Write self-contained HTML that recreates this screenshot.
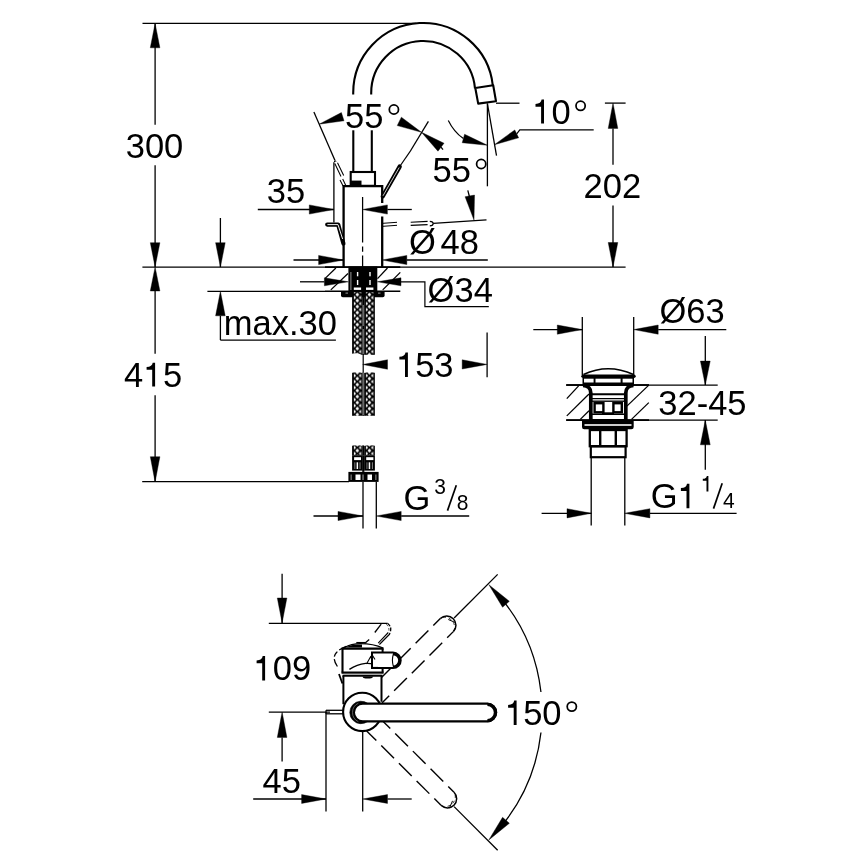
<!DOCTYPE html>
<html><head><meta charset="utf-8"><style>
html,body{margin:0;padding:0;background:#fff;width:868px;height:868px;overflow:hidden}
svg{display:block;will-change:transform}
text{font-family:"Liberation Sans",sans-serif;fill:#000;stroke:none}
</style></head><body>
<svg width="868" height="868" viewBox="0 0 868 868" stroke="#000" stroke-linecap="butt">
<defs>
<pattern id="bL" x="352.1" y="3.6" width="10.4" height="6.0" patternUnits="userSpaceOnUse">
<rect width="10.4" height="6" fill="#000" stroke="none"/>
<path d="M5.2,1.0 L7.1,3 L5.2,5.0 L3.3,3Z" fill="#fff" stroke="none"/>
<path d="M1.8,-2.0 L4.0,0 L1.8,2.0Z M9.0,-2.0 L6.6,0 L9.0,2.0Z M1.8,4.0 L4.0,6 L1.8,8.0Z M9.0,4.0 L6.6,6 L9.0,8.0Z" fill="#fff" stroke="none"/>
</pattern>
<pattern id="bR" x="364.2" y="3.6" width="10.4" height="6.0" patternUnits="userSpaceOnUse">
<rect width="10.4" height="6" fill="#000" stroke="none"/>
<path d="M5.2,1.0 L7.1,3 L5.2,5.0 L3.3,3Z" fill="#fff" stroke="none"/>
<path d="M1.8,-2.0 L4.0,0 L1.8,2.0Z M9.0,-2.0 L6.6,0 L9.0,2.0Z M1.8,4.0 L4.0,6 L1.8,8.0Z M9.0,4.0 L6.6,6 L9.0,8.0Z" fill="#fff" stroke="none"/>
</pattern>
</defs>
<rect width="868" height="868" fill="#fff" stroke="none"/>
<line x1="142.50" y1="23.40" x2="416.00" y2="23.40" stroke-width="1.3" />
<line x1="155.10" y1="23.40" x2="155.10" y2="124.70" stroke-width="1.3" />
<polygon points="155.10,23.40 159.90,47.80 150.30,47.80" fill="#000" stroke="#000" stroke-width="0.4" stroke-linejoin="miter"/>
<text transform="translate(125.72,157.56) scale(1.0,1.03)" font-size="34.5">300</text>
<line x1="155.10" y1="165.30" x2="155.10" y2="267.00" stroke-width="1.3" />
<polygon points="155.10,267.00 150.30,242.70 159.90,242.70" fill="#000" stroke="#000" stroke-width="0.4" stroke-linejoin="miter"/>
<line x1="142.40" y1="267.10" x2="625.60" y2="267.10" stroke-width="1.3" />
<line x1="325.00" y1="267.10" x2="400.30" y2="267.10" stroke-width="1.7" />
<polygon points="155.10,267.10 159.90,291.00 150.30,291.00" fill="#000" stroke="#000" stroke-width="0.4" stroke-linejoin="miter"/>
<line x1="155.10" y1="291.00" x2="155.10" y2="353.70" stroke-width="1.3" />
<text transform="translate(124.11,386.85) scale(1.0,1.03)" font-size="34.5">4</text>
<path d="M155.10,362.70 L155.10,386.50 L152.20,386.50 L152.20,369.80 L146.60,369.80 L146.60,367.00 C150.40,367.00 152.40,365.30 152.70,362.70 Z" fill="#000" stroke="none"/>
<text transform="translate(162.91,386.65) scale(1.0,1.03)" font-size="34.5">5</text>
<line x1="155.10" y1="395.20" x2="155.10" y2="482.00" stroke-width="1.3" />
<polygon points="155.10,482.00 150.30,456.70 159.90,456.70" fill="#000" stroke="#000" stroke-width="0.4" stroke-linejoin="miter"/>
<line x1="142.20" y1="481.60" x2="349.00" y2="481.60" stroke-width="1.3" />
<line x1="220.40" y1="218.00" x2="220.40" y2="267.00" stroke-width="1.3" />
<polygon points="220.40,267.10 215.60,242.70 225.20,242.70" fill="#000" stroke="#000" stroke-width="0.4" stroke-linejoin="miter"/>
<line x1="207.40" y1="291.30" x2="325.00" y2="291.30" stroke-width="1.3" />
<line x1="325.00" y1="291.20" x2="400.30" y2="291.20" stroke-width="1.6" />
<polygon points="220.40,291.30 225.20,315.80 215.60,315.80" fill="#000" stroke="#000" stroke-width="0.4" stroke-linejoin="miter"/>
<line x1="220.40" y1="315.80" x2="220.40" y2="340.10" stroke-width="1.3" />
<line x1="220.40" y1="340.10" x2="335.90" y2="340.10" stroke-width="1.3" />
<text transform="translate(223.78,335.35) scale(1.0,1.03)" font-size="34.5">max.30</text>
<line x1="257.80" y1="209.50" x2="333.90" y2="209.50" stroke-width="1.3" />
<polygon points="333.90,209.50 309.30,214.10 309.30,204.90" fill="#000" stroke="#000" stroke-width="0.4" stroke-linejoin="miter"/>
<text transform="translate(266.72,203.46) scale(1.0,1.03)" font-size="34.5">35</text>
<polygon points="362.60,209.50 387.40,204.90 387.40,214.10" fill="#000" stroke="#000" stroke-width="0.4" stroke-linejoin="miter"/>
<line x1="387.40" y1="209.50" x2="411.80" y2="209.50" stroke-width="1.3" />
<line x1="333.90" y1="162.50" x2="333.90" y2="222.50" stroke-width="1.3" />
<path d="M353.20,94.6 L353.20,93.00 A70.0,70.0 0 0 1 492.80,85.50" stroke-width="2.1" fill="none" />
<path d="M371.20,94.6 L371.20,93.00 A52.0,52.0 0 0 1 474.99,88.30" stroke-width="2.1" fill="none" />
<polygon points="475.30,88.00 478.20,103.60 496.00,101.20 493.20,85.30" stroke-width="2.1" fill="none" stroke-linejoin="round"/>
<line x1="353.30" y1="130.30" x2="353.30" y2="172.00" stroke-width="2.1" />
<line x1="371.80" y1="130.30" x2="371.80" y2="172.00" stroke-width="2.1" />
<rect x="350.70" y="172.00" width="24.30" height="13.80" stroke-width="2.1" fill="none" />
<rect x="350.70" y="180.60" width="10.80" height="5.40" fill="#000" stroke="none" />
<path d="M343.6,267 L343.6,186.2 L382.2,186.2 L382.2,203 M382.2,216.5 L382.2,267" stroke-width="2.3" fill="none" />
<path d="M362.6,197 L362.6,242.5 M362.6,246.5 L362.6,251.8 M362.6,255.4 L362.6,267" stroke-width="1.25" fill="none" />
<line x1="313.90" y1="112.10" x2="335.00" y2="160.50" stroke-width="1.3" />
<polygon points="319.10,124.20 341.40,112.60 344.00,120.80" fill="#000" stroke="#000" stroke-width="0.4" stroke-linejoin="miter"/>
<path d="M333.9,162.5 Q334.5,160 336.3,161.3" stroke-width="1.0" fill="none" />
<path d="M334.8,163.5 L341.0,176.5 M337.5,162.8 L343.7,175.5 M340.0,180 L343.1,186 M342.7,179 L345.8,185.5" stroke-width="1.05" fill="none" />
<path d="M327.2,224.6 L338.2,224.6 L343.4,243.5" stroke-width="4.2" fill="none" stroke-linecap="round" stroke-linejoin="round"/>
<path d="M327.4,224.6 L338.0,224.6 L342.6,239" stroke-width="1.0" fill="none" stroke="#eee" stroke-linejoin="round"/>
<text transform="translate(345.12,127.75) scale(1.0,1.03)" font-size="34.5">55</text>
<circle cx="393.90" cy="109.50" r="4.60" stroke-width="1.75" fill="none"/>
<line x1="411.10" y1="150.00" x2="400.40" y2="165.50" stroke-width="1.3" />
<path d="M399.7,166.6 L382.8,196.3" stroke-width="4.3" fill="none" stroke-linecap="round"/>
<path d="M399.2,167.5 L383.0,195.8" stroke-width="0.9" fill="none" stroke="#ddd"/>
<line x1="428.40" y1="121.30" x2="411.00" y2="150.00" stroke-width="1.3" />
<polygon points="421.50,132.30 397.23,125.62 401.37,117.18" fill="#000" stroke="#000" stroke-width="0.4" stroke-linejoin="miter"/>
<polygon points="421.50,132.30 444.04,143.23 437.96,151.17" fill="#000" stroke="#000" stroke-width="0.4" stroke-linejoin="miter"/>
<line x1="441.00" y1="147.20" x2="443.00" y2="149.60" stroke-width="1.3" />
<text transform="translate(432.52,182.35) scale(1.0,1.03)" font-size="34.5">55</text>
<circle cx="481.20" cy="164.00" r="4.60" stroke-width="1.75" fill="none"/>
<path d="M448.3,120.4 Q454,132 463.4,138.5" stroke-width="1.2" fill="none" />
<polygon points="487.50,145.30 462.21,142.73 464.59,134.27" fill="#000" stroke="#000" stroke-width="0.4" stroke-linejoin="miter"/>
<line x1="487.40" y1="103.50" x2="487.40" y2="186.30" stroke-width="1.3" />
<line x1="487.40" y1="103.50" x2="496.50" y2="155.60" stroke-width="1.3" />
<polygon points="494.40,144.70 514.78,129.94 518.62,137.86" fill="#000" stroke="#000" stroke-width="0.4" stroke-linejoin="miter"/>
<path d="M516.7,133.9 L519.8,129.8 L593.7,129.8" stroke-width="1.2" fill="none" />
<line x1="496.00" y1="103.20" x2="519.50" y2="103.20" stroke-width="1.3" />
<path d="M544.00,99.60 L544.00,123.60 L541.10,123.60 L541.10,106.70 L535.50,106.70 L535.50,103.90 C539.30,103.90 541.30,102.20 541.60,99.60 Z" fill="#000" stroke="none"/>
<text transform="translate(551.56,123.56) scale(1.0,1.03)" font-size="34.5">0</text>
<circle cx="580.60" cy="105.80" r="4.60" stroke-width="1.75" fill="none"/>
<line x1="604.90" y1="103.10" x2="625.60" y2="103.10" stroke-width="1.3" />
<polygon points="613.00,103.10 617.80,128.40 608.20,128.40" fill="#000" stroke="#000" stroke-width="0.4" stroke-linejoin="miter"/>
<line x1="613.00" y1="128.40" x2="613.00" y2="164.80" stroke-width="1.3" />
<text transform="translate(583.57,198.35) scale(1.0,1.03)" font-size="34.5">202</text>
<line x1="613.00" y1="205.60" x2="613.00" y2="267.00" stroke-width="1.3" />
<polygon points="613.00,267.10 608.20,242.50 617.80,242.50" fill="#000" stroke="#000" stroke-width="0.4" stroke-linejoin="miter"/>
<line x1="433.20" y1="223.40" x2="486.50" y2="219.80" stroke-width="1.2" />
<path d="M410.7,222.2 L427.6,221.4 M410.7,225.4 L427.6,224.6" stroke-width="1.1" fill="none" />
<path d="M429.8,221.3 Q433.2,221.6 433.2,223.4 Q433.2,225.6 429.8,225.8" stroke-width="1.2" fill="none" />
<line x1="467.80" y1="190.40" x2="470.30" y2="200.00" stroke-width="1.3" />
<polygon points="474.00,220.10 465.07,196.72 474.53,195.08" fill="#000" stroke="#000" stroke-width="0.4" stroke-linejoin="miter"/>
<path d="M383,223.3 L397,222.3 M383,226.3 L397,225.3" stroke-width="1.0" fill="none" />
<text transform="translate(409.02,254.01) scale(1.0,1.03)" font-size="34.5">&#216;</text>
<text transform="translate(440.58,254.35) scale(1.0,1.03)" font-size="34.5">48</text>
<line x1="293.50" y1="260.00" x2="343.60" y2="260.00" stroke-width="1.3" />
<polygon points="343.60,260.00 318.60,264.60 318.60,255.40" fill="#000" stroke="#000" stroke-width="0.4" stroke-linejoin="miter"/>
<polygon points="382.20,260.00 406.80,255.40 406.80,264.60" fill="#000" stroke="#000" stroke-width="0.4" stroke-linejoin="miter"/>
<line x1="406.80" y1="260.00" x2="487.80" y2="260.00" stroke-width="1.3" />
<line x1="325.40" y1="278.10" x2="335.90" y2="268.00" stroke-width="1.3" />
<line x1="330.80" y1="289.90" x2="348.00" y2="273.50" stroke-width="1.3" />
<line x1="377.50" y1="278.60" x2="387.50" y2="268.00" stroke-width="1.3" />
<line x1="382.70" y1="289.90" x2="400.30" y2="272.40" stroke-width="1.3" />
<line x1="300.00" y1="281.80" x2="324.40" y2="281.80" stroke-width="1.3" />
<polygon points="348.40,281.80 324.40,285.80 324.40,277.80" fill="#000" stroke="#000" stroke-width="0.4" stroke-linejoin="miter"/>
<polygon points="377.30,281.80 401.00,277.80 401.00,285.80" fill="#000" stroke="#000" stroke-width="0.4" stroke-linejoin="miter"/>
<path d="M401,281.8 L424.9,281.8 L424.9,306.6 L488.8,306.6" stroke-width="1.2" fill="none" />
<text transform="translate(427.62,301.51) scale(1.0,1.03)" font-size="34.5">&#216;34</text>
<rect x="348.40" y="266.50" width="28.90" height="24.80" fill="#000" stroke="none" />
<rect x="356.90" y="272.00" width="1.40" height="4.30" fill="#fff" stroke="none" />
<rect x="369.30" y="272.00" width="1.40" height="4.30" fill="#fff" stroke="none" />
<rect x="356.90" y="280.00" width="1.40" height="5.00" fill="#fff" stroke="none" />
<rect x="369.30" y="280.00" width="1.40" height="5.00" fill="#fff" stroke="none" />
<rect x="350.40" y="272.00" width="1.00" height="18.00" fill="#999" stroke="none" />
<rect x="353.80" y="287.50" width="7.30" height="2.40" fill="#fff" stroke="none" />
<rect x="366.00" y="287.50" width="7.40" height="2.40" fill="#fff" stroke="none" />
<path d="M341,291 L384.6,291 L384.6,295.5 Q384.6,297.3 382.8,297.3 L342.8,297.3 Q341,297.3 341,295.5 Z" stroke-width="0" fill="#000" stroke="none"/>
<rect x="345.50" y="292.60" width="2.50" height="1.00" fill="#999" stroke="none" />
<rect x="378.00" y="292.60" width="2.50" height="1.00" fill="#999" stroke="none" />
<rect x="352.10" y="292.20" width="10.10" height="62.60" fill="url(#bL)" stroke="none" />
<rect x="364.20" y="292.20" width="10.65" height="62.60" fill="url(#bR)" stroke="none" />
<rect x="352.10" y="372.50" width="10.10" height="43.30" fill="url(#bL)" stroke="none" />
<rect x="364.20" y="372.50" width="10.65" height="43.30" fill="url(#bR)" stroke="none" />
<rect x="352.10" y="445.40" width="10.10" height="9.80" fill="url(#bL)" stroke="none" />
<rect x="364.20" y="445.40" width="10.65" height="9.80" fill="url(#bR)" stroke="none" />
<path d="M351,354 Q357,352 363,355.5 L363,358 L351,358 Z" stroke-width="0" fill="#fff" stroke="none"/>
<path d="M363.8,355.5 Q369,353.5 376,356.5 L376,358 L363.8,358 Z" stroke-width="0" fill="#fff" stroke="none"/>
<path d="M351,371 L363,371 L363,373.2 Q357,370.5 351,373 Z" stroke-width="0" fill="#fff" stroke="none"/>
<path d="M363.8,371 L376,371 L376,373 Q369,370.5 363.8,373.2 Z" stroke-width="0" fill="#fff" stroke="none"/>
<path d="M351,443 L363,443 L363,446.3 Q357,443.5 351,446 Z" stroke-width="0" fill="#fff" stroke="none"/>
<path d="M363.8,443 L376,443 L376,446 Q369,443.5 363.8,446.3 Z" stroke-width="0" fill="#fff" stroke="none"/>
<rect x="362.20" y="291.50" width="2.00" height="63.30" fill="#000" stroke="none" />
<rect x="362.20" y="372.50" width="2.00" height="43.30" fill="#000" stroke="none" />
<rect x="362.20" y="445.40" width="2.00" height="9.80" fill="#000" stroke="none" />
<line x1="363.20" y1="305.00" x2="363.20" y2="326.00" stroke-width="0.9" stroke="#aaa"/>
<line x1="363.20" y1="329.00" x2="363.20" y2="354.00" stroke-width="0.9" stroke="#aaa"/>
<line x1="363.20" y1="354.00" x2="363.20" y2="372.50" stroke-width="1.2" />
<line x1="363.20" y1="373.00" x2="363.20" y2="415.00" stroke-width="0.9" stroke="#aaa"/>
<rect x="352.10" y="455.20" width="10.40" height="15.40" fill="#000" stroke="none" />
<rect x="354.10" y="457.20" width="6.90" height="2.90" fill="#fff" stroke="none" />
<rect x="356.60" y="462.30" width="1.50" height="6.70" fill="#fff" stroke="none" />
<rect x="354.40" y="462.30" width="0.90" height="6.70" fill="#888" stroke="none" />
<rect x="359.50" y="462.30" width="1.00" height="6.70" fill="#888" stroke="none" />
<rect x="364.20" y="455.20" width="10.70" height="15.40" fill="#000" stroke="none" />
<rect x="366.20" y="457.20" width="7.20" height="2.90" fill="#fff" stroke="none" />
<rect x="368.70" y="462.30" width="1.50" height="6.70" fill="#fff" stroke="none" />
<rect x="366.50" y="462.30" width="0.90" height="6.70" fill="#888" stroke="none" />
<rect x="371.90" y="462.30" width="1.00" height="6.70" fill="#888" stroke="none" />
<rect x="362.20" y="455.20" width="2.20" height="16.70" fill="#000" stroke="none" />
<rect x="348.40" y="471.90" width="30.20" height="10.00" fill="#000" stroke="none" />
<rect x="355.50" y="474.50" width="5.00" height="5.50" fill="#fff" stroke="none" />
<rect x="367.50" y="474.50" width="4.50" height="5.50" fill="#fff" stroke="none" />
<rect x="350.50" y="474.50" width="1.30" height="5.50" fill="#777" stroke="none" />
<rect x="362.30" y="474.50" width="1.50" height="5.50" fill="#777" stroke="none" />
<rect x="375.20" y="474.50" width="1.30" height="5.50" fill="#777" stroke="none" />
<line x1="487.10" y1="332.60" x2="487.10" y2="377.20" stroke-width="1.3" />
<polygon points="487.10,364.40 462.20,369.00 462.20,359.80" fill="#000" stroke="#000" stroke-width="0.4" stroke-linejoin="miter"/>
<polygon points="362.75,364.50 387.50,359.75 387.50,369.25" fill="#000" stroke="#000" stroke-width="0.4" stroke-linejoin="miter"/>
<path d="M407.90,352.50 L407.90,377.00 L405.00,377.00 L405.00,359.60 L399.40,359.60 L399.40,356.80 C403.20,356.80 405.20,355.10 405.50,352.50 Z" fill="#000" stroke="none"/>
<text transform="translate(415.19,376.95) scale(1.0,1.03)" font-size="34.5">53</text>
<line x1="363.00" y1="482.00" x2="363.00" y2="528.50" stroke-width="1.3" />
<line x1="376.30" y1="482.00" x2="376.30" y2="528.50" stroke-width="1.3" />
<line x1="313.50" y1="516.00" x2="363.00" y2="516.00" stroke-width="1.3" />
<polygon points="363.00,516.00 338.00,520.60 338.00,511.40" fill="#000" stroke="#000" stroke-width="0.4" stroke-linejoin="miter"/>
<polygon points="376.30,516.00 401.20,511.40 401.20,520.60" fill="#000" stroke="#000" stroke-width="0.4" stroke-linejoin="miter"/>
<line x1="401.20" y1="516.00" x2="469.20" y2="516.00" stroke-width="1.3" />
<text transform="translate(403.38,510.25) scale(1.0,1.03)" font-size="34.5">G</text>
<text transform="translate(434.26,493.89) scale(1.0,1.03)" font-size="21">3</text>
<line x1="447.50" y1="510.60" x2="456.30" y2="485.20" stroke-width="1.7" />
<text transform="translate(456.86,510.39) scale(1.0,1.03)" font-size="21">8</text>
<line x1="582.30" y1="317.10" x2="582.30" y2="375.00" stroke-width="1.3" />
<line x1="633.70" y1="317.10" x2="633.70" y2="375.00" stroke-width="1.3" />
<line x1="533.30" y1="329.60" x2="582.30" y2="329.60" stroke-width="1.3" />
<polygon points="582.30,329.60 557.30,334.20 557.30,325.00" fill="#000" stroke="#000" stroke-width="0.4" stroke-linejoin="miter"/>
<polygon points="633.70,329.60 658.20,325.00 658.20,334.20" fill="#000" stroke="#000" stroke-width="0.4" stroke-linejoin="miter"/>
<line x1="658.20" y1="329.60" x2="726.30" y2="329.60" stroke-width="1.3" />
<text transform="translate(659.42,323.41) scale(1.0,1.03)" font-size="34.5">&#216;63</text>
<line x1="566.20" y1="385.00" x2="717.70" y2="385.00" stroke-width="1.25" />
<line x1="566.20" y1="420.10" x2="717.70" y2="420.10" stroke-width="1.25" />
<line x1="566.20" y1="385.00" x2="590.00" y2="385.00" stroke-width="1.8" />
<line x1="566.20" y1="420.10" x2="590.00" y2="420.10" stroke-width="1.8" />
<line x1="626.00" y1="385.00" x2="649.00" y2="385.00" stroke-width="1.8" />
<line x1="626.00" y1="420.10" x2="649.00" y2="420.10" stroke-width="1.8" />
<line x1="705.30" y1="336.10" x2="705.30" y2="385.00" stroke-width="1.3" />
<polygon points="705.30,385.00 700.40,361.10 710.20,361.10" fill="#000" stroke="#000" stroke-width="0.4" stroke-linejoin="miter"/>
<line x1="705.30" y1="469.70" x2="705.30" y2="420.10" stroke-width="1.3" />
<polygon points="705.30,420.10 710.20,444.80 700.40,444.80" fill="#000" stroke="#000" stroke-width="0.4" stroke-linejoin="miter"/>
<text transform="translate(658.32,414.65) scale(1.0,1.03)" font-size="34.5">32-45</text>
<line x1="591.20" y1="457.00" x2="591.20" y2="525.60" stroke-width="1.3" />
<line x1="624.80" y1="457.00" x2="624.80" y2="525.60" stroke-width="1.3" />
<line x1="541.60" y1="513.30" x2="591.30" y2="513.30" stroke-width="1.3" />
<polygon points="591.30,513.30 567.00,517.90 567.00,508.70" fill="#000" stroke="#000" stroke-width="0.4" stroke-linejoin="miter"/>
<polygon points="624.50,513.30 649.90,508.70 649.90,517.90" fill="#000" stroke="#000" stroke-width="0.4" stroke-linejoin="miter"/>
<line x1="649.90" y1="513.30" x2="736.60" y2="513.30" stroke-width="1.3" />
<text transform="translate(650.77,508.25) scale(1.0,1.03)" font-size="34.5">G</text>
<path d="M689.40,483.80 L689.40,508.30 L686.50,508.30 L686.50,490.90 L680.90,490.90 L680.90,488.10 C684.70,488.10 686.70,486.40 687.00,483.80 Z" fill="#000" stroke="none"/>
<path d="M708.40,476.00 L708.40,491.60 L706.49,491.60 L706.49,480.69 L702.79,480.69 L702.79,478.84 C705.30,478.84 706.62,477.72 706.82,476.00 Z" fill="#000" stroke="none"/>
<line x1="713.50" y1="508.60" x2="722.20" y2="483.20" stroke-width="1.7" />
<text transform="translate(722.88,508.21) scale(1.0,1.03)" font-size="21">4</text>
<path d="M583.5,374.5 Q608,363 633.5,374.5" stroke-width="1.6" fill="none" />
<path d="M583,376.2 L634,376.2" stroke-width="3.4" fill="none" stroke-linecap="round"/>
<rect x="582.50" y="377.50" width="51.50" height="8.50" fill="#000" stroke="none" />
<rect x="584.00" y="378.70" width="9.60" height="3.80" fill="#fff" stroke="none" />
<rect x="595.50" y="378.70" width="25.10" height="3.80" fill="#fff" stroke="none" />
<rect x="622.60" y="378.70" width="9.90" height="3.80" fill="#fff" stroke="none" />
<path d="M583,385.5 Q590.8,386 590.8,393 L590.8,420 M633.5,385.5 Q625.8,386 625.8,393 L625.8,420" stroke-width="3.7" fill="none" />
<line x1="590.50" y1="394.30" x2="626.00" y2="394.30" stroke-width="2.0" />
<line x1="590.50" y1="398.60" x2="626.00" y2="398.60" stroke-width="1.4" />
<line x1="592.00" y1="401.20" x2="624.00" y2="401.20" stroke-width="1.4" />
<rect x="594.60" y="403.20" width="8.80" height="9.10" stroke-width="2.4" fill="none" />
<rect x="613.40" y="403.20" width="8.40" height="9.10" stroke-width="2.4" fill="none" />
<line x1="602.00" y1="413.30" x2="614.00" y2="413.30" stroke-width="2.0" />
<line x1="590.50" y1="414.20" x2="626.00" y2="414.20" stroke-width="1.6" />
<rect x="590.50" y="419.00" width="35.50" height="1.50" fill="#000" stroke="none" />
<path d="M582,420 L633.7,420 L633.7,427 Q633.7,429.3 631.4,429.3 L584.3,429.3 Q582,429.3 582,427 Z" stroke-width="0" fill="#000" stroke="none"/>
<rect x="584.50" y="424.20" width="47.00" height="1.60" fill="#fff" stroke="none" />
<rect x="589.80" y="430.00" width="36.80" height="16.20" stroke-width="2.3" fill="none" />
<line x1="600.20" y1="429.30" x2="600.20" y2="446.00" stroke-width="2.4" />
<line x1="615.80" y1="429.30" x2="615.80" y2="446.00" stroke-width="2.4" />
<rect x="590.80" y="446.30" width="34.80" height="10.90" stroke-width="2.2" fill="none" />
<line x1="566.80" y1="398.60" x2="578.60" y2="385.90" stroke-width="1.3" />
<line x1="566.80" y1="415.90" x2="589.00" y2="394.00" stroke-width="1.3" />
<line x1="580.30" y1="419.40" x2="589.00" y2="410.70" stroke-width="1.3" />
<line x1="626.90" y1="406.10" x2="648.80" y2="385.10" stroke-width="1.3" />
<line x1="631.50" y1="419.40" x2="648.80" y2="402.60" stroke-width="1.3" />
<line x1="282.10" y1="573.80" x2="282.10" y2="622.90" stroke-width="1.3" />
<polygon points="282.10,622.90 277.30,598.00 286.90,598.00" fill="#000" stroke="#000" stroke-width="0.4" stroke-linejoin="miter"/>
<line x1="268.80" y1="623.30" x2="387.70" y2="623.30" stroke-width="1.3" />
<path d="M265.10,656.10 L265.10,680.40 L262.20,680.40 L262.20,663.20 L256.60,663.20 L256.60,660.40 C260.40,660.40 262.40,658.70 262.70,656.10 Z" fill="#000" stroke="none"/>
<text transform="translate(272.73,680.36) scale(1.0,1.03)" font-size="34.5">09</text>
<line x1="268.80" y1="712.10" x2="330.00" y2="712.10" stroke-width="1.3" />
<polygon points="282.10,712.10 286.90,737.40 277.30,737.40" fill="#000" stroke="#000" stroke-width="0.4" stroke-linejoin="miter"/>
<line x1="282.10" y1="737.40" x2="282.10" y2="761.50" stroke-width="1.3" />
<text transform="translate(262.61,792.55) scale(1.0,1.03)" font-size="34.5">45</text>
<line x1="326.00" y1="710.30" x2="343.00" y2="710.30" stroke-width="1.3" />
<line x1="326.00" y1="713.80" x2="343.00" y2="713.80" stroke-width="1.3" />
<line x1="326.00" y1="710.30" x2="326.00" y2="713.80" stroke-width="1.3" />
<line x1="326.00" y1="712.10" x2="326.00" y2="811.40" stroke-width="1.3" />
<line x1="362.70" y1="732.00" x2="362.70" y2="811.40" stroke-width="1.3" />
<line x1="253.20" y1="799.00" x2="326.00" y2="799.00" stroke-width="1.3" />
<polygon points="326.00,799.00 301.60,803.40 301.60,794.60" fill="#000" stroke="#000" stroke-width="0.4" stroke-linejoin="miter"/>
<polygon points="362.70,799.00 387.50,794.60 387.50,803.40" fill="#000" stroke="#000" stroke-width="0.4" stroke-linejoin="miter"/>
<line x1="387.50" y1="799.00" x2="411.70" y2="799.00" stroke-width="1.3" />
<line x1="447.17" y1="637.77" x2="453.32" y2="631.62" stroke-width="1.4" />
<line x1="429.49" y1="655.45" x2="442.22" y2="642.72" stroke-width="1.4" />
<line x1="411.81" y1="673.13" x2="424.54" y2="660.40" stroke-width="1.4" />
<line x1="394.14" y1="690.80" x2="406.86" y2="678.08" stroke-width="1.4" />
<line x1="378.93" y1="706.01" x2="389.19" y2="695.75" stroke-width="1.4" />
<line x1="433.31" y1="625.61" x2="440.31" y2="618.61" stroke-width="1.4" />
<line x1="415.63" y1="643.29" x2="428.36" y2="630.56" stroke-width="1.4" />
<line x1="397.96" y1="660.96" x2="410.68" y2="648.24" stroke-width="1.4" />
<line x1="380.28" y1="678.64" x2="393.01" y2="665.91" stroke-width="1.4" />
<line x1="365.92" y1="693.00" x2="375.33" y2="683.59" stroke-width="1.4" />
<path d="M453.32,631.62 A9.2,9.2 0 0 0 440.31,618.61" stroke-width="1.5" fill="none" />
<path d="M453.89,631.05 A10.0,10.0 0 0 0 440.88,618.04" stroke-width="0.8" fill="none" stroke-dasharray="3,3"/>
<line x1="454.10" y1="617.97" x2="497.66" y2="574.41" stroke-width="1.3" />
<line x1="455.73" y1="622.71" x2="448.30" y2="619.53" stroke-width="1.0" />
<line x1="434.30" y1="798.57" x2="441.02" y2="805.28" stroke-width="1.4" />
<line x1="416.62" y1="780.89" x2="429.35" y2="793.62" stroke-width="1.4" />
<line x1="398.95" y1="763.21" x2="411.67" y2="775.94" stroke-width="1.4" />
<line x1="381.27" y1="745.53" x2="394.00" y2="758.26" stroke-width="1.4" />
<line x1="366.63" y1="730.90" x2="376.32" y2="740.58" stroke-width="1.4" />
<line x1="448.23" y1="786.48" x2="454.03" y2="792.27" stroke-width="1.4" />
<line x1="430.55" y1="768.80" x2="443.28" y2="781.53" stroke-width="1.4" />
<line x1="412.88" y1="751.12" x2="425.60" y2="763.85" stroke-width="1.4" />
<line x1="395.20" y1="733.44" x2="407.93" y2="746.17" stroke-width="1.4" />
<line x1="379.64" y1="717.89" x2="390.25" y2="728.49" stroke-width="1.4" />
<path d="M441.02,805.28 A9.2,9.2 0 0 0 454.03,792.27" stroke-width="1.5" fill="none" />
<path d="M441.58,805.85 A10.0,10.0 0 0 0 454.59,792.84" stroke-width="0.8" fill="none" stroke-dasharray="3,3"/>
<line x1="454.10" y1="806.63" x2="497.66" y2="850.19" stroke-width="1.3" />
<line x1="449.36" y1="808.25" x2="452.54" y2="800.83" stroke-width="1.0" />
<rect x="343.50" y="648.50" width="38.30" height="55.50" fill="#fff" stroke="none" />
<line x1="342.50" y1="648.60" x2="342.50" y2="672.60" stroke-width="2.1" />
<line x1="382.60" y1="648.60" x2="382.60" y2="652.80" stroke-width="2.0" />
<line x1="382.60" y1="667.50" x2="382.60" y2="672.60" stroke-width="2.0" />
<line x1="343.40" y1="675.80" x2="343.40" y2="704.20" stroke-width="2.0" />
<line x1="381.50" y1="675.80" x2="381.50" y2="701.80" stroke-width="2.0" />
<line x1="341.50" y1="648.60" x2="383.60" y2="648.60" stroke-width="2.2" />
<path d="M342.5,649 Q347,645 356,643.8 Q372,643 383.1,648.2" stroke-width="1.3" fill="none" />
<path d="M345,648 Q350,644.8 357,644.5 L362,644.6 L362,647.6 L345,647.6 Z" stroke-width="0" fill="#000" stroke="none"/>
<line x1="356.30" y1="642.60" x2="365.60" y2="642.60" stroke-width="1.3" />
<line x1="341.50" y1="672.60" x2="383.60" y2="672.60" stroke-width="2.4" />
<line x1="342.50" y1="675.80" x2="382.60" y2="675.80" stroke-width="2.0" />
<rect x="343.50" y="673.80" width="38.10" height="0.80" fill="#999" stroke="none" />
<path d="M362.3,676.5 L373.4,676.5 Q372.5,678.6 370,678.6 L365.5,678.6 Q363,678.6 362.3,676.5 Z" stroke-width="0" fill="#000" stroke="none"/>
<path d="M349.4,669.4 Q357,664.5 365.6,663.4 Q373,663 378.5,665.7" stroke-width="1.4" fill="none" />
<path d="M372,652.6 L393.0,652.6 A7.75,7.75 0 0 1 393.0,668.1 L372,668.1 Z" stroke-width="2.0" fill="#fff" />
<path d="M393.0,653.9 A6.4,6.4 0 0 1 393.0,666.8" stroke-width="2.6" fill="none" />
<path d="M393.4,654.0 Q391.4,660.3 393.4,666.6" stroke-width="1.1" fill="none" />
<path d="M372,652.8 L372,667.5" stroke-width="2.0" fill="none" />
<path d="M368.8,659.5 L372.5,655.5 L375,659.5 M366.5,664 L371,656" stroke-width="1.1" fill="none" />
<line x1="373.00" y1="667.50" x2="378.00" y2="667.50" stroke-width="1.2" />
<path d="M337.4,666.5 Q331.5,658 336.5,652.5 Q341,647.5 349,645.5" stroke-width="1.3" fill="none" stroke-dasharray="8,2.5,6,2.5"/>
<path d="M339,674 L342.4,683.5" stroke-width="1.8" fill="none" />
<path d="M387.7,623.5 Q391.5,626.5 390.6,630.5 Q390,633 389.5,634" stroke-width="1.3" fill="none" stroke-dasharray="3.5,1.5"/>
<path d="M386.3,624.3 Q389.5,627 388.8,631" stroke-width="0.7" fill="none" stroke-dasharray="2.5,2"/>
<path d="M389.8,634 L379.4,644.5 M388.3,632.5 L378.2,643.2" stroke-width="1.1" fill="none" />
<line x1="374.80" y1="632.50" x2="381.20" y2="624.20" stroke-width="1.3" />
<line x1="364.60" y1="643.60" x2="369.20" y2="639.40" stroke-width="1.3" />
<circle cx="362.30" cy="711.90" r="19.20" stroke-width="2.1" fill="#fff"/>
<path d="M487.2,703.6 L362.7,703.6 A8.85,8.85 0 0 0 362.7,721.3 L487.2,721.4 A8.9 8.9 0 0 0 487.2,703.6" stroke-width="2.3" fill="#fff" />
<path d="M368,703.6 A11.26,11.26 0 1 0 368,721.3 L362.7,721.3 A8.85,8.85 0 0 1 362.7,703.6 Z" stroke-width="0.6" fill="#000" />
<path d="M358.39,703.21 A10.2,10.2 0 0 0 358.39,721.69" stroke-width="0.6" fill="none" stroke="#999"/>
<path d="M487.4,704.4 A8.1 8.1 0 0 1 487.4,720.6" stroke-width="3.4" fill="none" />
<path d="M499.09,595.72 A179.5,179.5 0 0 1 540.95,692.00" stroke-width="1.3" fill="none" />
<path d="M540.96,732.50 A179.5,179.5 0 0 1 499.09,828.88" stroke-width="1.3" fill="none" />
<polygon points="488.86,584.71 509.34,601.31 502.57,607.24" fill="#000" stroke="#000" stroke-width="0.4" stroke-linejoin="miter"/>
<polygon points="488.86,839.89 502.57,817.36 509.34,823.29" fill="#000" stroke="#000" stroke-width="0.4" stroke-linejoin="miter"/>
<path d="M516.60,700.60 L516.60,725.00 L513.70,725.00 L513.70,707.70 L508.10,707.70 L508.10,704.90 C511.90,704.90 513.90,703.20 514.20,700.60 Z" fill="#000" stroke="none"/>
<text transform="translate(523.19,724.95) scale(1.0,1.03)" font-size="34.5">50</text>
<circle cx="571.80" cy="706.60" r="4.60" stroke-width="1.75" fill="none"/>
</svg></body></html>
